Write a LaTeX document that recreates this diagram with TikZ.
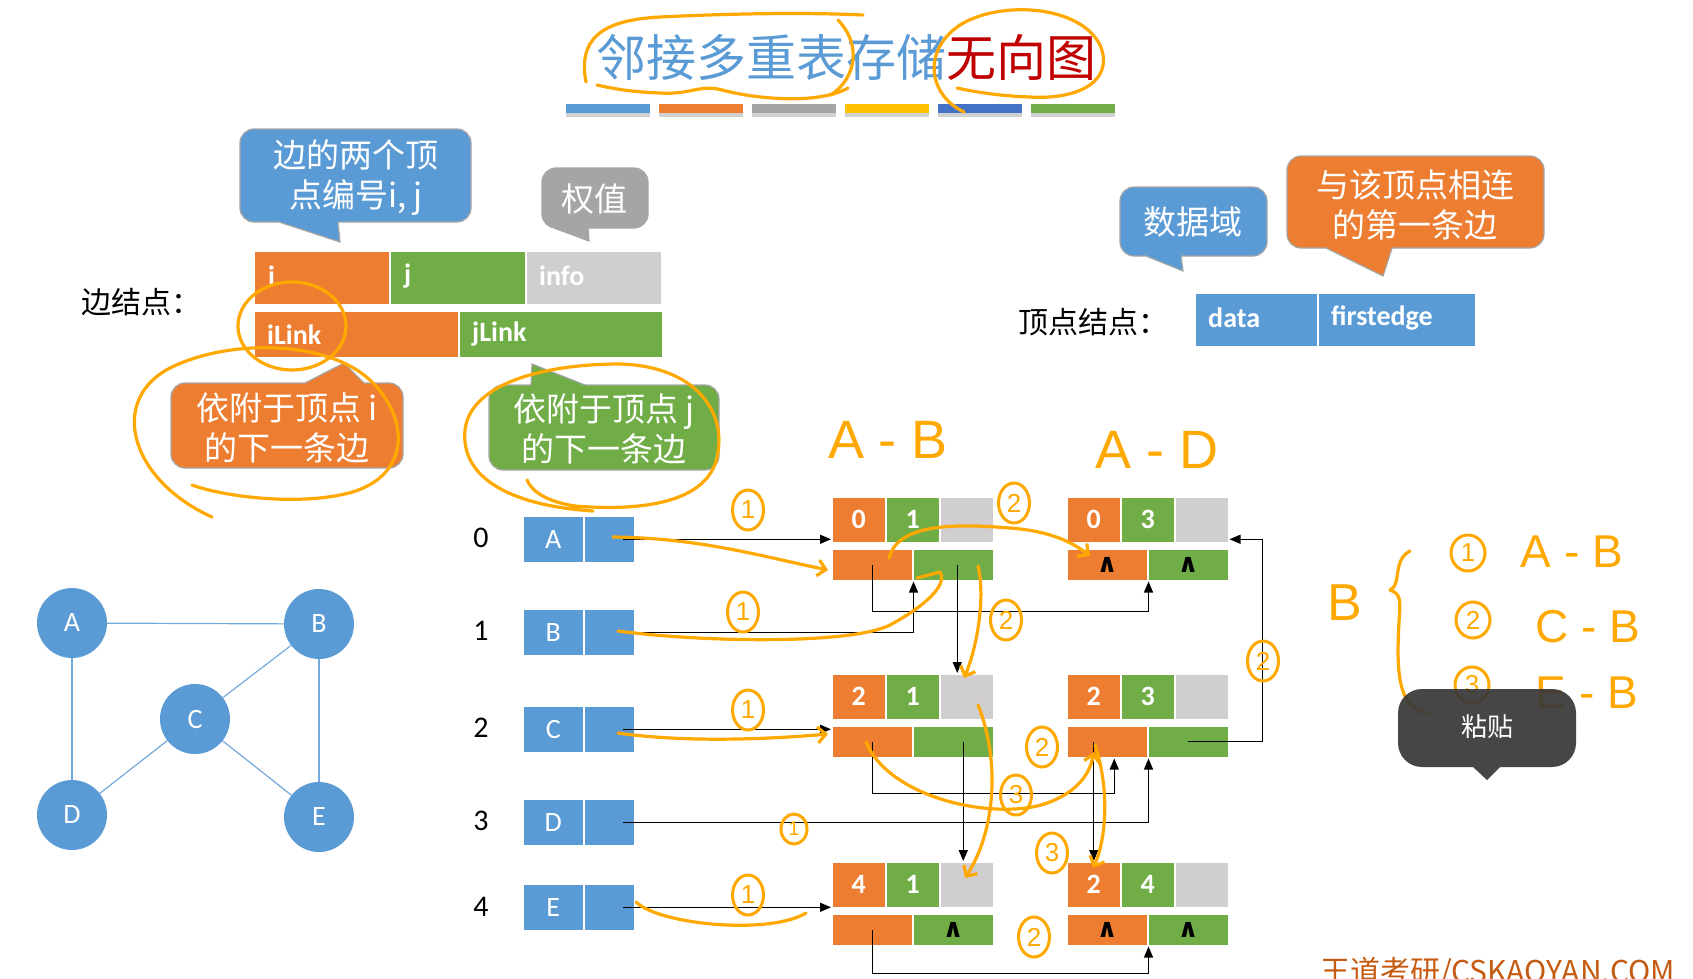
\documentclass[tikz,border=0pt]{standalone}
\usepackage{fontspec}
\setmainfont{Carlito}
\newfontfamily\cjk{Noto Sans CJK SC}
\newfontfamily\djv{DejaVu Sans}
\newfontfamily\lsans{Liberation Sans}
\usetikzlibrary{arrows.meta,calc,shapes.geometric}
\definecolor{cblue}{HTML}{5B9BD5}
\definecolor{cor}{HTML}{ED7D31}
\definecolor{cgr}{HTML}{70AD47}
\definecolor{cgy}{HTML}{D0CECE}
\definecolor{cgray}{HTML}{A5A5A5}
\definecolor{cgold}{HTML}{FFC000}
\definecolor{cdblue}{HTML}{4472C4}
\definecolor{cred}{HTML}{C00000}
\definecolor{ink}{RGB}{255,168,0}
\definecolor{tipc}{HTML}{383838}
\definecolor{wmc}{HTML}{C55A11}
\newcommand\nilsym{\textcolor{black}{\djv\fontsize{26}{26}\selectfont ∧}}
\newcommand\edgenode[7]{%
  \node[ecell, fill=cor, minimum width=54pt, minimum height=46pt] (#1-i) at (#2,#3) {#4};
  \node[ecell, fill=cgr, minimum width=54pt, minimum height=46pt] (#1-j) at (#2+54,#3) {#5};
  \node[ecell, fill=cgy, minimum width=54pt, minimum height=46pt] (#1-w) at (#2+108,#3) {};
  \node[ecell, fill=cor, minimum width=81pt, minimum height=32pt] (#1-il) at (#2,#3+52) {#6};
  \node[ecell, fill=cgr, minimum width=81pt, minimum height=32pt] (#1-jl) at (#2+81,#3+52) {#7};
}
\newcommand\balloon[8]{%
  \draw[bal, fill=#1] #2 rectangle #3;
  \fill[#1] #7 -- #4 -- #5 -- #6 -- #8 -- cycle;
  \draw[balline] #4 -- #5 -- #6;
}
\begin{document}
\begin{tikzpicture}[x=1pt,y=-1pt,
  ecell/.style={draw=white, line width=1.5pt, inner sep=0pt, anchor=north west, text=white, font=\bfseries\fontsize{28}{28}\selectfont},
  vcell/.style={draw=white, line width=1.5pt, inner sep=0pt, anchor=north west, fill=cblue, text=white, minimum height=47pt, font=\fontsize{28}{28}\selectfont},
  scell/.style={draw=white, line width=1.5pt, inner sep=0pt, anchor=north west},
  lbl/.style={anchor=west, text=white, inner sep=0pt, font=\bfseries\fontsize{28}{28}\selectfont},
  bal/.style={draw=black!35, line width=1.2pt, rounded corners=14pt},
  balline/.style={draw=black!35, line width=1.2pt},
  btxt/.style={text=white, font=\cjk\fontsize{33}{40}\selectfont, align=center, inner sep=0pt},
  gnode/.style={circle, fill=cblue, minimum size=70pt, inner sep=0pt, text=white, font=\fontsize{28}{28}\selectfont},
  gedge/.style={draw=cblue!85, line width=1.2pt},
  rowlbl/.style={inner sep=0pt, font=\fontsize{30}{30}\selectfont},
  conn/.style={draw=black, line width=1.4pt, -{Triangle[length=11pt,width=9pt]}},
  hand/.style={draw=ink, line width=3.2pt, line cap=round, line join=round},
  harr/.style={hand, -{Straight Barb[length=8pt,width=16pt]}},
  htxt/.style={text=ink, inner sep=0pt, font=\lsans\fontsize{46}{46}\selectfont},
  hnum/.style={ellipse, draw=ink, line width=3pt, text=ink, inner sep=0pt, minimum width=31pt, minimum height=40pt, font=\lsans\fontsize{26}{26}\selectfont}
]
\useasboundingbox (0,0) rectangle (1693,978);
\fill[white] (0,0) rectangle (1693,978);

% title
\node[font=\cjk\fontsize{50}{50}\selectfont, inner sep=0pt] (title) at (846,57) {\textcolor{cblue}{邻接多重表存储}\textcolor{cred}{无向图}};
\foreach \c [count=\k from 0] in {cblue,cor,cgray,cgold,cdblue,cgr}{
  \fill[black!18] (566+\k*93,107) rectangle ++(84,10);
  \fill[\c] (566+\k*93,104) rectangle ++(84,9);
}

% edge node structure
\node[anchor=west, inner sep=0pt, font=\cjk\fontsize{30}{30}\selectfont] (elbl) at (81,302) {边结点：};
\node[scell, fill=cor, minimum width=136pt, minimum height=54pt] (ei) at (253,250) {};
\node[scell, fill=cgr, minimum width=136pt, minimum height=54pt] (ej) at (389,250) {};
\node[scell, fill=cgy, minimum width=136pt, minimum height=54pt] (einfo) at (525,250) {};
\node[scell, fill=cor, minimum width=205pt, minimum height=47pt] (eil) at (253,310) {};
\node[scell, fill=cgr, minimum width=204pt, minimum height=47pt] (ejl) at (458,310) {};
\node[lbl] (ti) at ([xshift=15pt,yshift=2pt]ei.west) {i};
\node[lbl] (tj) at ([xshift=15pt,yshift=2pt]ej.west) {j};
\node[lbl] (tinfo) at ([xshift=14pt,yshift=2pt]einfo.west) {info};
\node[lbl] (til) at ([xshift=14pt]eil.west) {iLink};
\node[lbl] (tjl) at ([xshift=14pt]ejl.west) {jLink};

% vertex node structure
\node[anchor=west, inner sep=0pt, font=\cjk\fontsize{30}{30}\selectfont] (vlbl) at (1018,322) {顶点结点：};
\node[scell, fill=cblue, minimum width=123pt, minimum height=54pt] (vdata) at (1194,292) {};
\node[scell, fill=cblue, minimum width=158pt, minimum height=54pt] (vfirst) at (1317,292) {};
\node[lbl] (tdata) at ([xshift=14pt,yshift=2pt]vdata.west) {data};
\node[lbl] (tfirst) at ([xshift=14pt,yshift=2pt]vfirst.west) {firstedge};

% balloons
\balloon{cblue}{(240,129)}{(471,222)}{(279,222)}{(340,242)}{(338,222)}{(279,215)}{(338,215)}
\node[btxt] (b1) at (356,178) {边的两个顶\\点编号i, j};
\balloon{cgray}{(542,168)}{(648,228)}{(554,228)}{(589,241)}{(588,228)}{(554,221)}{(588,221)}
\node[btxt] (b2) at (594,199) {权值};
\balloon{cor}{(171,383)}{(403,468)}{(305,383)}{(344,363)}{(364,383)}{(305,390)}{(364,390)}
\node[btxt] (b3) at (287,428) {依附于顶点 i\\的下一条边};
\balloon{cgr}{(489,385)}{(719,470)}{(531,385)}{(532,364)}{(585,385)}{(531,392)}{(585,392)}
\node[btxt] (b4) at (604,429) {依附于顶点 j\\的下一条边};
\balloon{cblue}{(1120,187)}{(1267,256)}{(1146,256)}{(1183,271)}{(1181,256)}{(1146,249)}{(1181,249)}
\node[btxt] (b5) at (1193,222) {数据域};
\balloon{cor}{(1287,156)}{(1544,248)}{(1326,248)}{(1383,276)}{(1392,248)}{(1326,241)}{(1392,241)}
\node[btxt] (b6) at (1415,205) {与该顶点相连\\的第一条边};

% graph
\node[gnode] (A) at (72,623) {A};
\node[gnode] (B) at (319,624) {B};
\node[gnode] (C) at (195,719) {C};
\node[gnode] (D) at (72,815) {D};
\node[gnode] (E) at (319,817) {E};
\draw[gedge] (A) -- (B);
\draw[gedge] (A) -- (D);
\draw[gedge] (B) -- (C);
\draw[gedge] (B) -- (E);
\draw[gedge] (C) -- (D);
\draw[gedge] (C) -- (E);

% vertex list
\node[rowlbl] (r0) at (481,538) {0};
\node[rowlbl] (r1) at (481,631) {1};
\node[rowlbl] (r2) at (481,728) {2};
\node[rowlbl] (r3) at (481,821) {3};
\node[rowlbl] (r4) at (481,907) {4};
\node[vcell, minimum width=61pt] (vA1) at (522,515) {A};
\node[vcell, minimum width=51pt] (vA2) at (583,515) {};
\node[vcell, minimum width=61pt] (vB1) at (522,608) {B};
\node[vcell, minimum width=51pt] (vB2) at (583,608) {};
\node[vcell, minimum width=61pt] (vC1) at (522,705) {C};
\node[vcell, minimum width=51pt] (vC2) at (583,705) {};
\node[vcell, minimum width=61pt] (vD1) at (522,798) {D};
\node[vcell, minimum width=51pt] (vD2) at (583,798) {};
\node[vcell, minimum width=61pt] (vE1) at (522,883) {E};
\node[vcell, minimum width=51pt] (vE2) at (583,883) {};

% edge nodes
\edgenode{n01}{831}{496}{0}{1}{}{}
\edgenode{n03}{1066}{496}{0}{3}{\nilsym}{\nilsym}
\edgenode{n21}{831}{673}{2}{1}{}{}
\edgenode{n23}{1066}{673}{2}{3}{}{}
\edgenode{n41}{831}{861}{4}{1}{}{\nilsym}
\edgenode{n24}{1066}{861}{2}{4}{\nilsym}{\nilsym}

% connectors
\draw[conn] ([xshift=14pt]vA2.center) -- (vA2.center -| n01-i.west);
\draw[conn] ([xshift=14pt]vB2.center) -| (n01-il.south east);
\draw[conn] (n01-il.center) |- ($(n03-il.south east)+(0,30)$) -- (n03-il.south east);
\draw[conn] ([xshift=4pt]n01-jl.center) -- ([xshift=4pt]n01-jl.center |- n21-w.north);
\draw[conn] ([xshift=14pt]vC2.center) -- (vC2.center -| n21-il.west);
\draw[conn] (n21-il.center) |- ($(n23-il.south)+(7,35)$) -- ([xshift=7pt]n23-il.south);
\draw[conn] ([xshift=10pt]n21-jl.center) -- ([xshift=10pt]n21-jl.center |- n41-w.north);
\draw[conn] ([xshift=14pt]vD2.center) -| (n23-il.south east);
\draw[conn] (n24-i.north |- n23-il.center) -- (n24-i.north);
\draw[conn] (n23-jl.center) -| ($(n03-w.east |- vA2.center)+(33,0)$) -- (n03-w.east |- vA2.center);
\draw[conn] ([xshift=14pt]vE2.center) -- (vE2.center -| n41-i.west);
\draw[conn] (n41-il.center) |- ($(n24-il.south east)+(0,27)$) -- (n24-il.south east);

% watermark
\node[anchor=base west, inner sep=0pt, text=wmc, font=\cjk\fontsize{30}{30}\selectfont] (wm) at (1320,982) {王道考研/CSKAOYAN.COM};

% handwritten annotations
\draw[hand] (586,82) .. controls (578,40) and (600,20) .. (660,17) .. controls (720,14) and (800,12) .. (863,15);
\draw[hand] (838,20) .. controls (862,45) and (856,78) .. (831,95);
\draw[hand] (848,88) .. controls (820,104) and (760,100) .. (722,90) .. controls (700,84) and (690,95) .. (660,93) .. controls (630,92) and (610,88) .. (597,85);
\draw[hand] (964,112) .. controls (928,95) and (922,50) .. (960,25) .. controls (1000,0) and (1080,5) .. (1100,45) .. controls (1115,80) and (1080,100) .. (1030,97) .. controls (1000,96) and (975,92) .. (957,88);
\draw[hand] (292,326) ellipse [x radius=54pt, y radius=44pt];
\draw[hand] (212,517) .. controls (130,480) and (108,400) .. (170,368) .. controls (230,338) and (330,340) .. (372,382) .. controls (412,422) and (410,482) .. (340,495) .. controls (290,505) and (222,496) .. (192,485);
\draw[hand] (593,511) .. controls (515,506) and (460,480) .. (465,430) .. controls (470,385) and (540,364) .. (620,364) .. controls (692,366) and (725,408) .. (718,452) .. controls (712,500) and (650,512) .. (575,506) .. controls (548,502) and (532,492) .. (527,480);

\draw[harr] (613,537) .. controls (700,538) and (760,556) .. (828,570);
\draw[harr] (889,558) .. controls (898,522) and (960,524) .. (1010,528) .. controls (1050,531) and (1072,542) .. (1090,556);
\draw[hand] (618,631) .. controls (700,642) and (850,645) .. (890,625) .. controls (925,606) and (948,585) .. (940,572) -- (917,578);
\draw[harr] (978,566) .. controls (986,600) and (976,650) .. (964,678);
\draw[harr] (618,733) .. controls (680,742) and (760,740) .. (828,734);
\draw[harr] (866,742) .. controls (890,800) and (1000,822) .. (1050,802) .. controls (1080,790) and (1090,772) .. (1094,752);
\draw[harr] (978,705) .. controls (1000,760) and (996,830) .. (965,878);
\draw[harr] (1095,745) .. controls (1110,790) and (1106,840) .. (1093,868);
\draw[hand] (636,902) .. controls (660,925) and (770,935) .. (806,913);

\node[hnum] (h1) at (748,510) {1};
\node[hnum] (h2) at (1014,503) {2};
\node[hnum] (h3) at (743,612) {1};
\node[hnum] (h4) at (1006,620) {2};
\node[hnum] (h5) at (1263,661) {2};
\node[hnum] (h6) at (748,710) {1};
\node[hnum] (h7) at (1042,747) {2};
\node[hnum] (h8) at (1016,795) {3};
\node[hnum, minimum width=26pt, minimum height=30pt, font=\lsans\fontsize{20}{20}\selectfont] (h9) at (794,829) {1};
\node[hnum] (h10) at (1052,853) {3};
\node[hnum] (h11) at (748,895) {1};
\node[hnum] (h12) at (1034,937) {2};

\node[htxt, font=\lsans\fontsize{54}{54}\selectfont] (hAB) at (888,440) {A - B};
\node[htxt, font=\lsans\fontsize{54}{54}\selectfont] (hAD) at (1157,450) {A - D};
\node[htxt, font=\lsans\fontsize{52}{52}\selectfont] (hB) at (1345,603) {B};
\draw[hand] (1410,551) .. controls (1392,560) and (1402,585) .. (1390,590) .. controls (1402,594) and (1400,602) .. (1399,622) .. controls (1397,662) and (1395,710) .. (1428,713);
\node[hnum, minimum width=34pt, minimum height=36pt] (r1n) at (1468,553) {1};
\node[htxt] (r1t) at (1572,552) {A - B};
\node[hnum, minimum width=34pt, minimum height=36pt] (r2n) at (1473,620) {2};
\node[htxt] (r2t) at (1588,627) {C - B};
\node[hnum, minimum width=34pt, minimum height=36pt] (r3n) at (1472,685) {3};
\node[htxt] (r3t) at (1587,693) {E - B};

% paste tooltip
\fill[tipc, fill opacity=0.93, rounded corners=24pt] (1398,689) rectangle (1576,767);
\fill[tipc, fill opacity=0.93] (1473,767) -- (1487,780) -- (1500,767) -- cycle;
\node[text=white, inner sep=0pt, font=\cjk\fontsize{26}{26}\selectfont] (paste) at (1487,727) {粘贴};
\end{tikzpicture}
\end{document}
